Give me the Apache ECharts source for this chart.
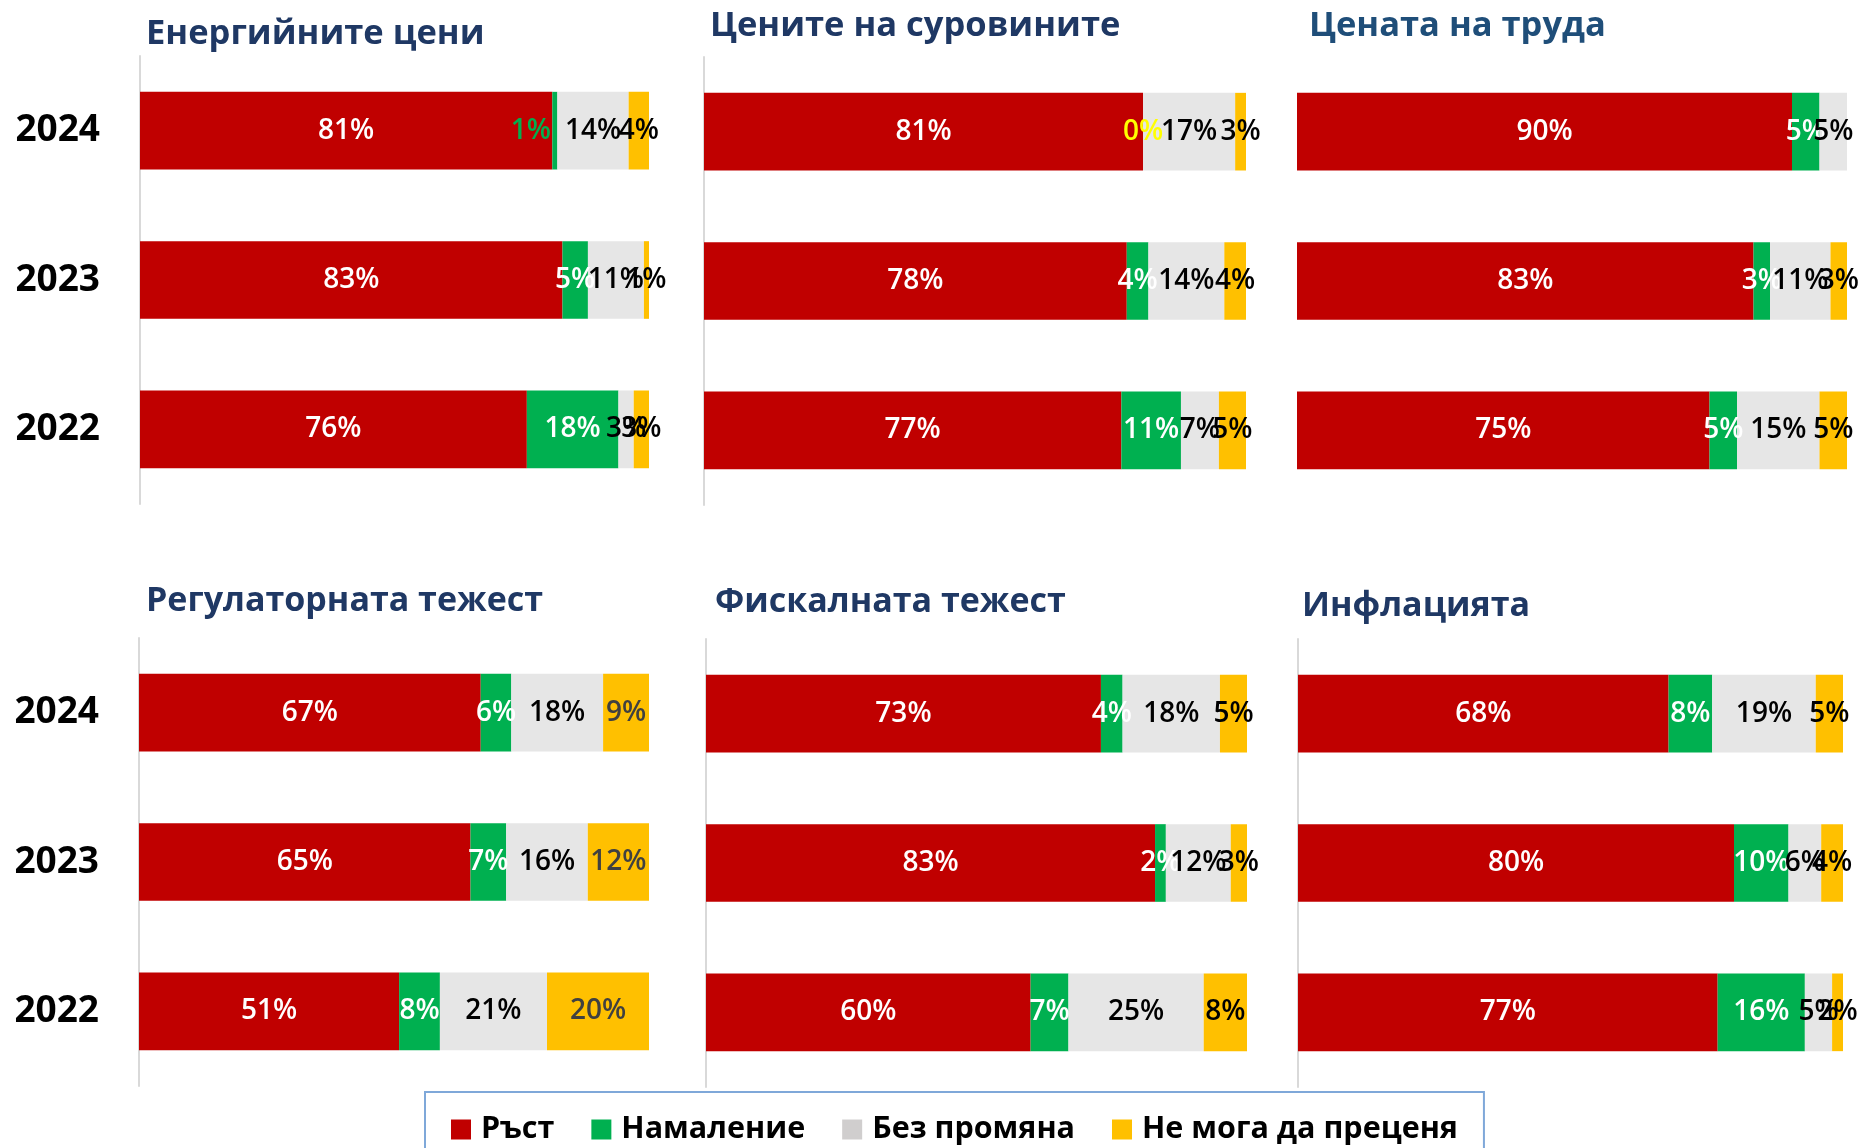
<!DOCTYPE html>
<html lang="bg">
<head>
<meta charset="utf-8">
<title>Фактори за цените</title>
<script src="https://cdn.jsdelivr.net/npm/echarts@6/dist/echarts.min.js"></script>
<style>
  html, body { margin: 0; padding: 0; background: #ffffff; }
  #chart { width: 1867px; height: 1148px; }
</style>
</head>
<body>
<div id="chart"></div>
<script>
// Categories (bottom to top on the axis)
const years = ['2022', '2023', '2024'];
const seriesNames = ['Ръст', 'Намаление', 'Без промяна', 'Не мога да преценя'];
const panelTitles = ['Енергийните цени', 'Цените на суровините', 'Цената на труда',
                     'Регулаторната тежест', 'Фискалната тежест', 'Инфлацията'];

// Shares in %, ordered 2022, 2023, 2024
const energyGrowth   = [76, 83, 81];
const energyDecrease = [18, 5, 1];
const energySame     = [3, 11, 14];
const energyUnsure   = [3, 1, 4];

const materialsGrowth   = [77, 78, 81];
const materialsDecrease = [11, 4, 0];
const materialsSame     = [7, 14, 17];
const materialsUnsure   = [5, 4, 3];

const labourGrowth   = [75, 83, 90];
const labourDecrease = [5, 3, 5];
const labourSame     = [15, 11, 5];
const labourUnsure   = [5, 3, null];

const regulationGrowth   = [51, 65, 67];
const regulationDecrease = [8, 7, 6];
const regulationSame     = [21, 16, 18];
const regulationUnsure   = [20, 12, 9];

const fiscalGrowth   = [60, 83, 73];
const fiscalDecrease = [7, 2, 4];
const fiscalSame     = [25, 12, 18];
const fiscalUnsure   = [8, 3, 5];

const inflationGrowth   = [77, 80, 68];
const inflationDecrease = [16, 10, 8];
const inflationSame     = [5, 6, 19];
const inflationUnsure   = [2, 4, 5];

const panelValues = [
  [energyGrowth, energyDecrease, energySame, energyUnsure],
  [materialsGrowth, materialsDecrease, materialsSame, materialsUnsure],
  [labourGrowth, labourDecrease, labourSame, labourUnsure],
  [regulationGrowth, regulationDecrease, regulationSame, regulationUnsure],
  [fiscalGrowth, fiscalDecrease, fiscalSame, fiscalUnsure],
  [inflationGrowth, inflationDecrease, inflationSame, inflationUnsure]
];

// Look of the panels
const FONT = "'Open Sans', 'Noto Sans', sans-serif";
const barColors = ['#C00000', '#00B050', '#E6E6E6', '#FFC000'];
const legendColors = ['#C00000', '#00B050', '#D0CECE', '#FFC000'];
const labelColors = ['#ffffff', '#ffffff', '#000000', '#000000'];

const layout = [
  { grid: { left: 140, top: 56, width: 509, height: 448 }, axisLine: true, years: true,
    title: { left: 146, mid: 34, size: 34.5, color: '#1F3864' } },
  { grid: { left: 704, top: 57, width: 542, height: 448 }, axisLine: true, years: false,
    title: { left: 710, mid: 26, size: 34.5, color: '#1F3864' } },
  { grid: { left: 1297, top: 57, width: 550, height: 448 }, axisLine: false, years: false,
    title: { left: 1309, mid: 26, size: 34.5, color: '#1F4E79' } },
  { grid: { left: 139, top: 638, width: 510, height: 448 }, axisLine: true, years: true,
    title: { left: 146, mid: 601, size: 34, color: '#1F3864' } },
  { grid: { left: 706, top: 639, width: 541, height: 448 }, axisLine: true, years: false,
    title: { left: 715, mid: 602, size: 34, color: '#1F3864' } },
  { grid: { left: 1298, top: 639, width: 545, height: 448 }, axisLine: true, years: false,
    title: { left: 1302, mid: 606, size: 34, color: '#1F3864' } }
];

// Individual label tweaks: "panel-series-yearIndex"
const labelTweaks = {
  '0-1-2': { color: '#00B050', offset: [-24, 0] },
  '1-1-2': { color: '#FFFF00' }
};
const unsureLabelColorByPanel = { 3: '#404040' };

const grids = [], xAxes = [], yAxes = [], titles = [], series = [];

layout.forEach((p, i) => {
  grids.push(Object.assign({ containLabel: false }, p.grid));
  xAxes.push({
    type: 'value', gridIndex: i, min: 0, max: 100,
    axisLine: { show: false }, axisTick: { show: false },
    axisLabel: { show: false }, splitLine: { show: false }
  });
  yAxes.push({
    type: 'category', gridIndex: i, data: years,
    axisLine: { show: p.axisLine, lineStyle: { color: '#D9D9D9', width: 2 } },
    axisTick: { show: false },
    axisLabel: {
      show: p.years, margin: 40, color: '#000000',
      fontFamily: FONT, fontSize: 37, fontWeight: 'bold'
    }
  });
  titles.push({
    text: panelTitles[i], left: p.title.left, top: p.title.mid - p.title.size / 2,
    padding: 0,
    textStyle: { fontFamily: FONT, fontSize: p.title.size, fontWeight: 'bold', color: p.title.color }
  });

  panelValues[i].forEach((values, s) => {
    const baseColor = (s === 3 && unsureLabelColorByPanel[i]) || labelColors[s];
    series.push({
      type: 'bar', name: seriesNames[s],
      xAxisIndex: i, yAxisIndex: i, stack: 'panel' + i,
      barWidth: '52%',
      itemStyle: { color: barColors[s] },
      label: {
        show: true, position: 'inside', formatter: '{c}%',
        fontFamily: FONT, fontSize: 28, fontWeight: 600, color: baseColor
      },
      emphasis: { disabled: true },
      data: values.map((v, y) => {
        const tweak = labelTweaks[i + '-' + s + '-' + y];
        return tweak ? { value: v, label: tweak } : v;
      })
    });
  });
});

const chart = echarts.init(document.getElementById('chart'), null, { renderer: 'canvas' });
chart.setOption({
  backgroundColor: '#ffffff',
  animation: false,
  title: titles,
  grid: grids,
  xAxis: xAxes,
  yAxis: yAxes,
  legend: {
    left: 425, top: 1092,
    padding: [22, 26, 60, 26],
    borderColor: '#7FA8D9', borderWidth: 2,
    icon: 'rect', itemWidth: 20, itemHeight: 20, itemGap: 37,
    selectedMode: false,
    textStyle: { fontFamily: FONT, fontSize: 30.5, fontWeight: 'bold', color: '#000000', padding: [0, 0, 0, 5] },
    data: seriesNames.map((n, k) => ({ name: n, itemStyle: { color: legendColors[k] } }))
  },
  series: series
});
</script>
</body>
</html>
